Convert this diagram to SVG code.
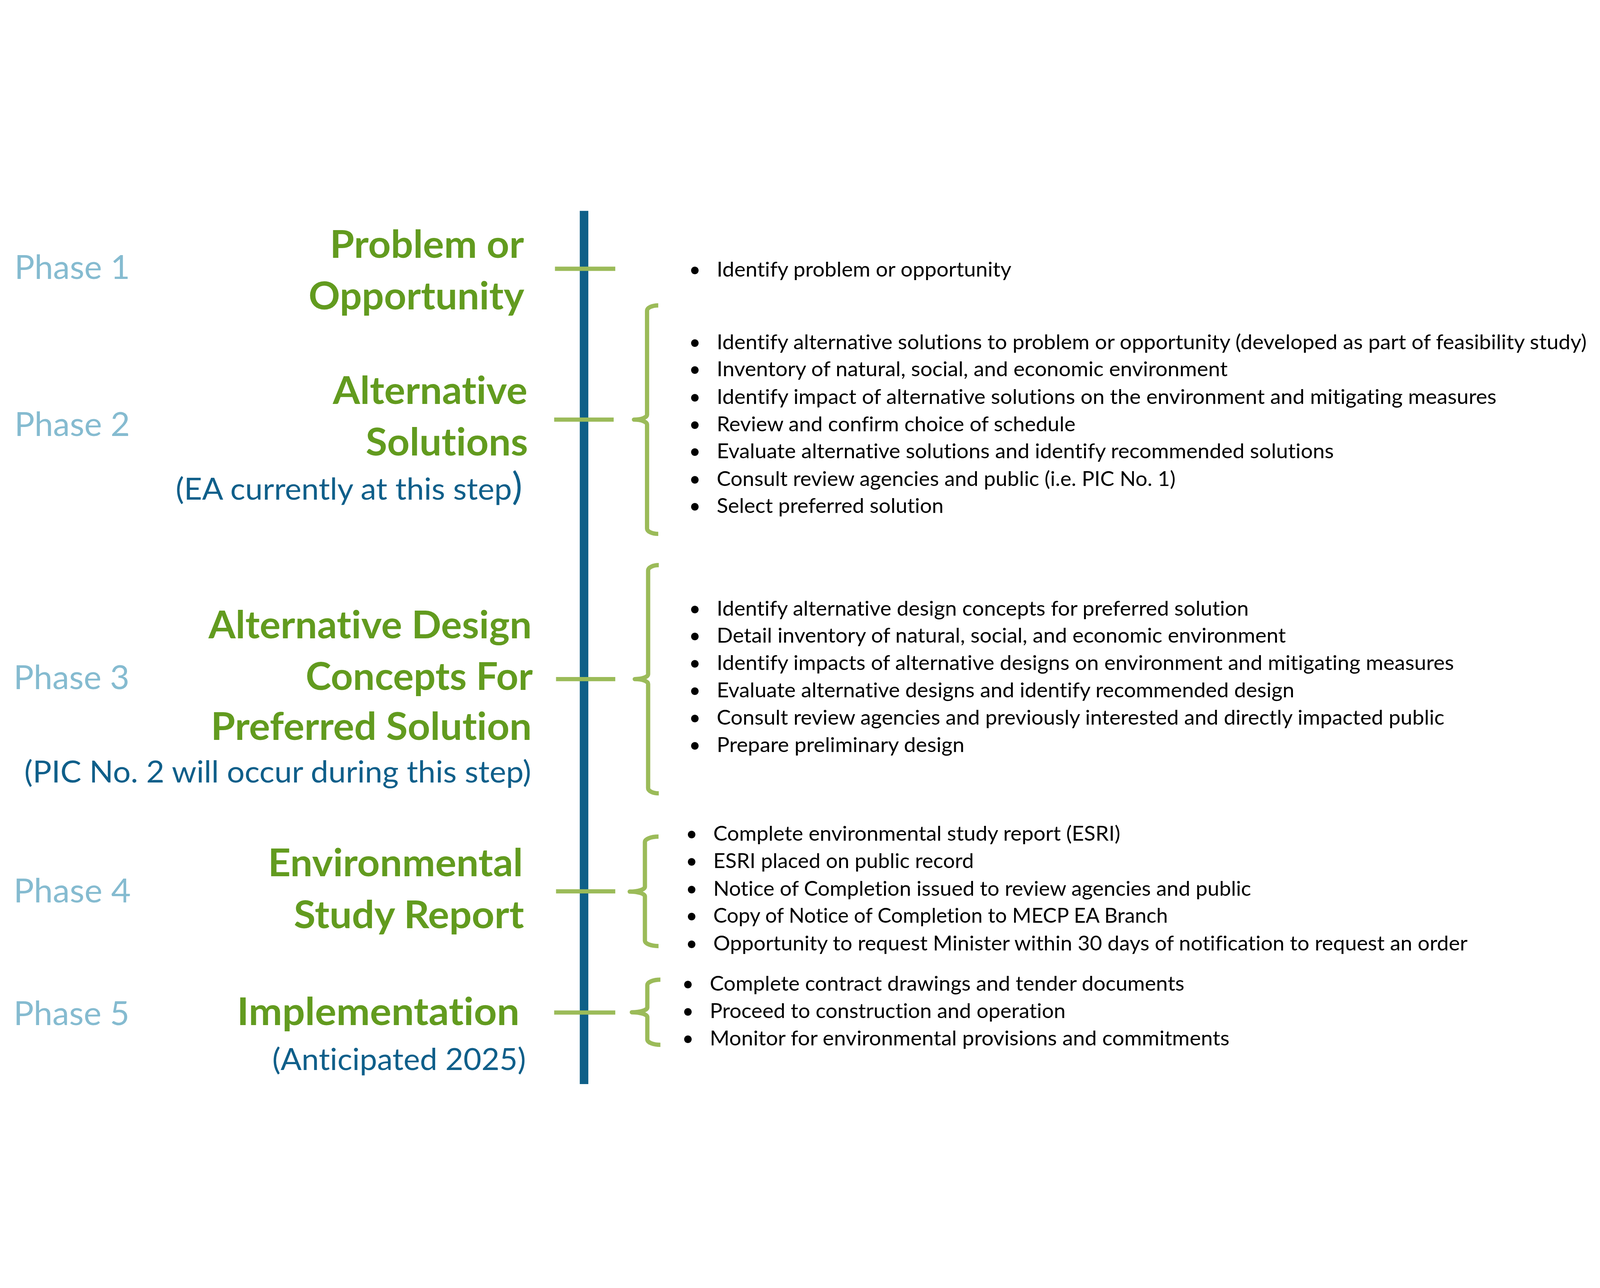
<svg xmlns="http://www.w3.org/2000/svg" width="5994" height="3297" viewBox="0 0 5994 3297" style="width:100%;height:100%;display:block">
<style>
text { font-family: Lato, "Liberation Sans", sans-serif; font-variant-ligatures: none; font-feature-settings: "liga" 0, "clig" 0, "dlig" 0; }
.ph { font-size: 126px; fill: #85BBD0; }
.tt { font-size: 142px; font-weight: bold; fill: #629B1F; text-anchor: end; }
.st { font-size: 113px; fill: #0F5F8A; text-anchor: end; }
.it { font-size: 76px; fill: #000000; }
.bu { font-size: 76px; fill: #000000; text-anchor: middle; }
.tick { stroke: #9BBB59; stroke-width: 16; fill: none; }
.br { fill: none; stroke: #9BBB59; stroke-width: 16; stroke-linejoin: round; }
.bar { fill: #0F6088; }
</style>
<rect width="5994" height="3297" fill="#FFFFFF"/>

<g id="timeline">
  <rect class="bar" x="2172" y="26" width="32" height="3271"/>
</g>

<g id="connectors">
  <line class="tick" x1="2079" y1="243" x2="2305" y2="243"/>
  <line class="tick" x1="2076" y1="808" x2="2299" y2="808"/>
  <line class="tick" x1="2083" y1="1780" x2="2305" y2="1780"/>
  <line class="tick" x1="2083" y1="2575" x2="2305" y2="2575"/>
  <line class="tick" x1="2076" y1="3029" x2="2305" y2="3029"/>
  <path class="br" d="M2466,380 A42,20 0 0 0 2424,400 L2424,790 A49,18 0 0 1 2375,808 A49,18 0 0 1 2424,826 L2424,1216 A42,20 0 0 0 2466,1236"/>
  <path class="br" d="M2468,1353 A40,20 0 0 0 2428,1373 L2428,1762 A50,18 0 0 1 2378,1780 A50,18 0 0 1 2428,1798 L2428,2188 A40,20 0 0 0 2468,2208"/>
  <path class="br" d="M2467,2370 A51,20 0 0 0 2416,2390 L2416,2558 A57,18 0 0 1 2359,2576 A57,18 0 0 1 2416,2594 L2416,2760 A51,20 0 0 0 2467,2780"/>
  <path class="br" d="M2474,2906 A49,20 0 0 0 2425,2926 L2425,3010 A58,18 0 0 1 2367,3028 A58,18 0 0 1 2425,3046 L2425,3130 A49,20 0 0 0 2474,3150"/>
</g>

<g id="phase1">
  <text class="ph" x="54" y="281" textLength="433" lengthAdjust="spacingAndGlyphs">Phase 1</text>
  <text class="tt" x="1963" y="202" textLength="727" lengthAdjust="spacingAndGlyphs">Problem or</text>
  <text class="tt" x="1964" y="395" textLength="808" lengthAdjust="spacingAndGlyphs">Opportunity</text>
  <text class="bu" x="2603" y="272">•</text>
  <text class="it" x="2685" y="272" textLength="1104" lengthAdjust="spacingAndGlyphs">Identify problem or opportunity</text>
</g>

<g id="phase2">
  <text class="ph" x="54" y="869" textLength="433" lengthAdjust="spacingAndGlyphs">Phase 2</text>
  <text class="tt" x="1976" y="749" textLength="729" lengthAdjust="spacingAndGlyphs">Alternative</text>
  <text class="tt" x="1978" y="942" textLength="608" lengthAdjust="spacingAndGlyphs">Solutions</text>
  <text class="st" x="1957" y="1108" textLength="1299" lengthAdjust="spacingAndGlyphs">(EA currently at this step<tspan style="font-size:141px">)</tspan></text>
  <text class="bu" x="2603" y="544">•</text>
  <text class="bu" x="2603" y="646">•</text>
  <text class="bu" x="2603" y="749">•</text>
  <text class="bu" x="2603" y="851">•</text>
  <text class="bu" x="2603" y="953">•</text>
  <text class="bu" x="2603" y="1056">•</text>
  <text class="bu" x="2603" y="1158">•</text>
  <text class="it" x="2685" y="544" textLength="3259" lengthAdjust="spacingAndGlyphs">Identify alternative solutions to problem or opportunity (developed as part of feasibility study)</text>
  <text class="it" x="2685" y="646" textLength="1914" lengthAdjust="spacingAndGlyphs">Inventory of natural, social, and economic environment</text>
  <text class="it" x="2685" y="749" textLength="2921" lengthAdjust="spacingAndGlyphs">Identify impact of alternative solutions on the environment and mitigating measures</text>
  <text class="it" x="2685" y="851" textLength="1344" lengthAdjust="spacingAndGlyphs">Review and confirm choice of schedule</text>
  <text class="it" x="2685" y="953" textLength="2312" lengthAdjust="spacingAndGlyphs">Evaluate alternative solutions and identify recommended solutions</text>
  <text class="it" x="2685" y="1056" textLength="1719" lengthAdjust="spacingAndGlyphs">Consult review agencies and public (i.e. PIC No. 1)</text>
  <text class="it" x="2685" y="1158" textLength="850" lengthAdjust="spacingAndGlyphs">Select preferred solution</text>
</g>

<g id="phase3">
  <text class="ph" x="51" y="1817" textLength="434" lengthAdjust="spacingAndGlyphs">Phase 3</text>
  <text class="tt" x="1992" y="1627" textLength="1211" lengthAdjust="spacingAndGlyphs">Alternative Design</text>
  <text class="tt" x="1996" y="1820" textLength="851" lengthAdjust="spacingAndGlyphs">Concepts For</text>
  <text class="tt" x="1992" y="2008" textLength="1202" lengthAdjust="spacingAndGlyphs">Preferred Solution</text>
  <text class="st" x="1990" y="2168" textLength="1899" lengthAdjust="spacingAndGlyphs">(PIC No. 2 will occur during this step)</text>
  <text class="bu" x="2603" y="1542">•</text>
  <text class="bu" x="2603" y="1644">•</text>
  <text class="bu" x="2603" y="1746">•</text>
  <text class="bu" x="2603" y="1848">•</text>
  <text class="bu" x="2603" y="1950">•</text>
  <text class="bu" x="2603" y="2053">•</text>
  <text class="it" x="2685" y="1542" textLength="1993" lengthAdjust="spacingAndGlyphs">Identify alternative design concepts for preferred solution</text>
  <text class="it" x="2685" y="1644" textLength="2132" lengthAdjust="spacingAndGlyphs">Detail inventory of natural, social, and economic environment</text>
  <text class="it" x="2685" y="1746" textLength="2762" lengthAdjust="spacingAndGlyphs">Identify impacts of alternative designs on environment and mitigating measures</text>
  <text class="it" x="2685" y="1848" textLength="2164" lengthAdjust="spacingAndGlyphs">Evaluate alternative designs and identify recommended design</text>
  <text class="it" x="2685" y="1950" textLength="2726" lengthAdjust="spacingAndGlyphs">Consult review agencies and previously interested and directly impacted public</text>
  <text class="it" x="2685" y="2053" textLength="928" lengthAdjust="spacingAndGlyphs">Prepare preliminary design</text>
</g>

<g id="phase4">
  <text class="ph" x="51" y="2616" textLength="439" lengthAdjust="spacingAndGlyphs">Phase 4</text>
  <text class="tt" x="1959" y="2519" textLength="955" lengthAdjust="spacingAndGlyphs">Environmental</text>
  <text class="tt" x="1963" y="2713" textLength="862" lengthAdjust="spacingAndGlyphs">Study Report</text>
  <text class="bu" x="2591" y="2386">•</text>
  <text class="bu" x="2591" y="2488">•</text>
  <text class="bu" x="2591" y="2591">•</text>
  <text class="bu" x="2591" y="2693">•</text>
  <text class="bu" x="2591" y="2796">•</text>
  <text class="it" x="2672" y="2386" textLength="1525" lengthAdjust="spacingAndGlyphs">Complete environmental study report (ESRI)</text>
  <text class="it" x="2672" y="2488" textLength="976" lengthAdjust="spacingAndGlyphs">ESRI placed on public record</text>
  <text class="it" x="2672" y="2591" textLength="2015" lengthAdjust="spacingAndGlyphs">Notice of Completion issued to review agencies and public</text>
  <text class="it" x="2672" y="2693" textLength="1703" lengthAdjust="spacingAndGlyphs">Copy of Notice of Completion to MECP EA Branch</text>
  <text class="it" x="2672" y="2796" textLength="2826" lengthAdjust="spacingAndGlyphs">Opportunity to request Minister within 30 days of notification to request an order</text>
</g>

<g id="phase5">
  <text class="ph" x="51" y="3076" textLength="434" lengthAdjust="spacingAndGlyphs">Phase 5</text>
  <text class="tt" x="1946" y="3076" textLength="1058" lengthAdjust="spacingAndGlyphs">Implementation</text>
  <text class="st" x="1970" y="3245" textLength="950" lengthAdjust="spacingAndGlyphs">(Anticipated 2025)</text>
  <text class="bu" x="2577" y="2947">•</text>
  <text class="bu" x="2577" y="3050">•</text>
  <text class="bu" x="2577" y="3152">•</text>
  <text class="it" x="2659" y="2947" textLength="1778" lengthAdjust="spacingAndGlyphs">Complete contract drawings and tender documents</text>
  <text class="it" x="2659" y="3050" textLength="1333" lengthAdjust="spacingAndGlyphs">Proceed to construction and operation</text>
  <text class="it" x="2659" y="3152" textLength="1947" lengthAdjust="spacingAndGlyphs">Monitor for environmental provisions and commitments</text>
</g>
</svg>
